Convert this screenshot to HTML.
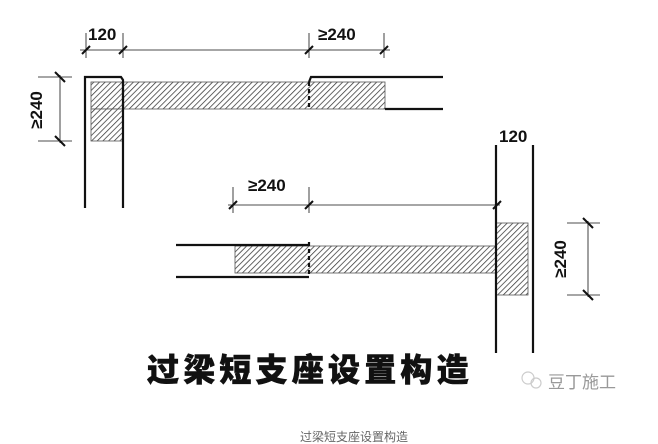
<!DOCTYPE html>
<html><head><meta charset="utf-8"><style>
html,body{margin:0;padding:0;background:#fff;}
svg{display:block;}
text{font-family:"Liberation Sans","Noto Sans CJK SC",sans-serif;}
</style></head><body>
<svg width="658" height="444" viewBox="0 0 658 444" xmlns="http://www.w3.org/2000/svg">
<defs>
<pattern id="h" patternUnits="userSpaceOnUse" width="4" height="4" patternTransform="rotate(45)">
<rect width="4" height="4" fill="#fff"/><line x1="0" y1="0" x2="0" y2="4" stroke="#333" stroke-width="1.5"/>
</pattern>
</defs>
<g stroke="#111" fill="none">
<line x1="80" y1="50" x2="390" y2="50" stroke-width="0.8"/>
<line x1="86" y1="33" x2="86" y2="58" stroke-width="0.8"/>
<line x1="123" y1="33" x2="123" y2="58" stroke-width="0.8"/>
<line x1="309" y1="33" x2="309" y2="58" stroke-width="0.8"/>
<line x1="384" y1="33" x2="384" y2="58" stroke-width="0.8"/>
<g stroke-width="2"><line x1="82" y1="54" x2="90" y2="46"/><line x1="119" y1="54" x2="127" y2="46"/><line x1="305" y1="54" x2="313" y2="46"/><line x1="380" y1="54" x2="388" y2="46"/></g>
<line x1="60" y1="75" x2="60" y2="143" stroke-width="0.8"/>
<line x1="38" y1="77" x2="72" y2="77" stroke-width="0.8"/>
<line x1="38" y1="141" x2="72" y2="141" stroke-width="0.8"/>
<g stroke-width="2"><line x1="55" y1="72" x2="65" y2="82"/><line x1="55" y1="136" x2="65" y2="146"/></g>
</g>
<rect x="91" y="82" width="294" height="27" fill="url(#h)" stroke="#555" stroke-width="0.8"/>
<rect x="91" y="109" width="32" height="32" fill="url(#h)" stroke="#555" stroke-width="0.8"/>
<g stroke="#111" stroke-width="2.2" fill="none">
<polyline points="85,208 85,77 121,77 123,80 123,208"/>
<polyline points="309,82 311,77 443,77"/>
<line x1="385" y1="109" x2="443" y2="109"/>
<line x1="123" y1="82" x2="123" y2="110" stroke-dasharray="4,3"/>
<line x1="309" y1="82" x2="309" y2="110" stroke-dasharray="4,3"/>
</g>
<text x="88" y="40" font-size="17" font-weight="bold" fill="#111">120</text>
<text x="318" y="40" font-size="17" font-weight="bold" fill="#111">≥240</text>
<text transform="translate(42,110) rotate(-90)" text-anchor="middle" font-size="17" font-weight="bold" fill="#111">≥240</text>

<g stroke="#111" fill="none">
<line x1="228" y1="205" x2="500" y2="205" stroke-width="0.8"/>
<line x1="233" y1="187" x2="233" y2="213" stroke-width="0.8"/>
<line x1="309" y1="187" x2="309" y2="213" stroke-width="0.8"/>
<g stroke-width="2"><line x1="229" y1="209" x2="237" y2="201"/><line x1="305" y1="209" x2="313" y2="201"/><line x1="493" y1="209" x2="501" y2="201"/></g>
<line x1="588" y1="221" x2="588" y2="297" stroke-width="0.8"/>
<line x1="567" y1="223" x2="600" y2="223" stroke-width="0.8"/>
<line x1="567" y1="295" x2="600" y2="295" stroke-width="0.8"/>
<g stroke-width="2"><line x1="583" y1="218" x2="593" y2="228"/><line x1="583" y1="290" x2="593" y2="300"/></g>
</g>
<rect x="235" y="246" width="261" height="27" fill="url(#h)" stroke="#555" stroke-width="0.8"/>
<rect x="496" y="223" width="32" height="72" fill="url(#h)" stroke="#555" stroke-width="0.8"/>
<g stroke="#111" stroke-width="2.2" fill="none">
<line x1="176" y1="245" x2="309" y2="245"/>
<line x1="176" y1="277" x2="309" y2="277"/>
<line x1="309" y1="242" x2="309" y2="276" stroke-dasharray="4,3"/>
<line x1="496" y1="145" x2="496" y2="353"/>
<line x1="533" y1="145" x2="533" y2="353"/>
</g>
<text x="499" y="142" font-size="17" font-weight="bold" fill="#111">120</text>
<text x="248" y="191" font-size="17" font-weight="bold" fill="#111">≥240</text>
<text transform="translate(566,259) rotate(-90)" text-anchor="middle" font-size="17" font-weight="bold" fill="#111">≥240</text>

<text x="147" y="381" font-size="32" font-weight="900" fill="#111" letter-spacing="4.2" stroke="#111" stroke-width="0.6" style='font-family:"Noto Sans CJK SC",sans-serif'>过梁短支座设置构造</text>
<circle cx="528" cy="378" r="6" fill="none" stroke="#ccc" stroke-width="1.2"/>
<circle cx="536" cy="383" r="5" fill="none" stroke="#ccc" stroke-width="1.2"/>
<text x="548" y="388" font-size="17" fill="#999" style='font-family:"Noto Sans CJK SC",sans-serif'>豆丁施工</text>
<text x="354" y="441" font-size="12" fill="#666" text-anchor="middle" style='font-family:"Noto Sans CJK SC",sans-serif'>过梁短支座设置构造</text>
</svg>
</body></html>
